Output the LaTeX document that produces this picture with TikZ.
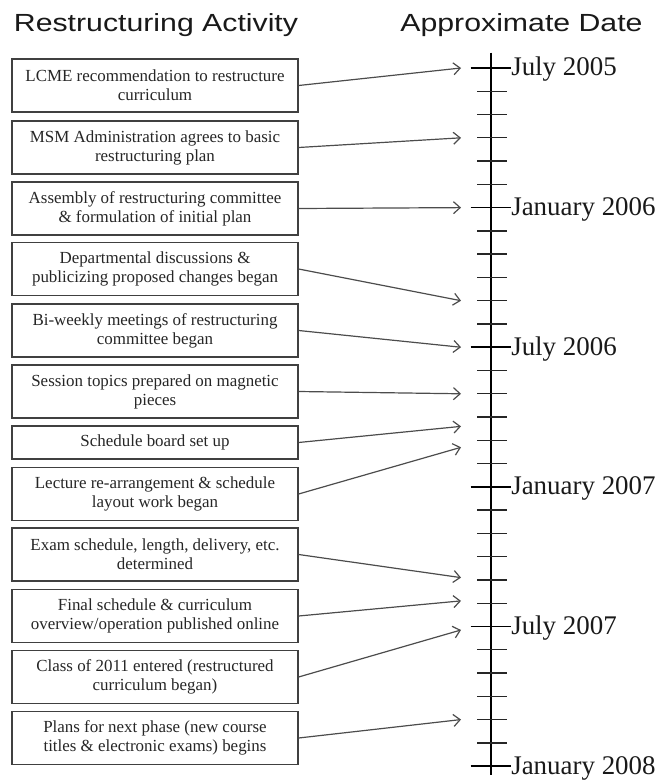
\documentclass[tikz,border=0pt]{standalone}
\usepackage{fontspec}
\setmainfont{Liberation Serif}
\newfontfamily\headfont[FakeStretch=1.22]{Liberation Sans}
\usetikzlibrary{arrows.meta}

\tikzset{
  actbox/.style={draw=black!75, line width=0.9pt, fill=white,
    minimum width=214.5pt, minimum height=39.75pt, align=center,
    inner sep=2pt, text=black!85, font=\fontsize{12.7}{14.3}\selectfont},
  actarrow/.style={draw=black!70, line width=0.9pt,
    -{Straight Barb[length=5pt,width=9pt,line width=0.9pt]}},
  datelabel/.style={anchor=base west, inner sep=0pt, text=black!90,
    font=\fontsize{20.2}{23}\selectfont},
  headline/.style={anchor=base, inner sep=0pt, text=black!90,
    font=\headfont\fontsize{18.6}{21}\selectfont},
}

\begin{document}
\begin{tikzpicture}[x=0.75pt, y=-0.75pt]
      \def\mo{23.27} % one month
      \def\ty{68}    % July 2005
      \def\lx{491}   % time line
      \useasboundingbox (0,0) rectangle (665,781);

      % HEADINGS
      \node[headline] (hact) at (156,32) {Restructuring Activity};
      \node[headline] (hdate) at (521.5,32) {Approximate Date};

      % TIME LINE
      \draw[line width=1.5pt] (\lx,52.7) -- (\lx,775);
      \foreach \m in {0,...,30}
        \draw[line width=1pt, black!85] (\lx-14,{\ty+\m*\mo}) -- (\lx+16,{\ty+\m*\mo});
      \foreach \m in {0,6,...,30}
        \draw[line width=1.3pt] (\lx-20.5,{\ty+\m*\mo}) -- (\lx+19.5,{\ty+\m*\mo});

      \node[datelabel] (d0) at (511,{\ty+0*\mo+8}) {July 2005};
      \node[datelabel] (d6) at (511,{\ty+6*\mo+8}) {January 2006};
      \node[datelabel] (d12) at (511,{\ty+12*\mo+8}) {July 2006};
      \node[datelabel] (d18) at (511,{\ty+18*\mo+8}) {January 2007};
      \node[datelabel] (d24) at (511,{\ty+24*\mo+8}) {July 2007};
      \node[datelabel] (d30) at (511,{\ty+30*\mo+8}) {January 2008};

      % ACTIVITIES
      \node[actbox] (a1) at (155,85.5) {LCME recommendation to restructure\\curriculum};
      \node[actbox] (a2) at (155,147.5) {MSM Administration agrees to basic\\restructuring plan};
      \node[actbox] (a3) at (155,208.5) {Assembly of restructuring committee\\\& formulation of initial plan};
      \node[actbox] (a4) at (155,269) {Departmental discussions \&\\publicizing proposed changes began};
      \node[actbox] (a5) at (155,330.5) {Bi-weekly meetings of restructuring\\committee began};
      \node[actbox] (a6) at (155,391.5) {Session topics prepared on magnetic\\pieces};
      \node[actbox, minimum height=24.75pt] (a7) at (155,442.5) {Schedule board set up};
      \node[actbox] (a8) at (155,494) {Lecture re-arrangement \& schedule\\layout work began};
      \node[actbox] (a9) at (155,554.5) {Exam schedule, length, delivery, etc.\\determined};
      \node[actbox] (a10) at (155,616) {Final schedule \& curriculum\\overview/operation published online};
      \node[actbox] (a11) at (155,677) {Class of 2011 entered (restructured\\curriculum began)};
      \node[actbox] (a12) at (155,738) {Plans for next phase (new course\\titles \& electronic exams) begins};

      % ARROWS
      \foreach \i/\m in {1/0, 2/3, 3/6, 4/10, 5/12, 6/14, 7/15.4, 8/16.3,
                         9/21.9, 10/22.9, 11/24.15, 12/28}
        \coordinate (t\i) at (461,{\ty+\m*\mo});
      \foreach \i in {1,...,12}
        \draw[actarrow] (a\i.east) -- (t\i);
    \end{tikzpicture}
\end{document}
